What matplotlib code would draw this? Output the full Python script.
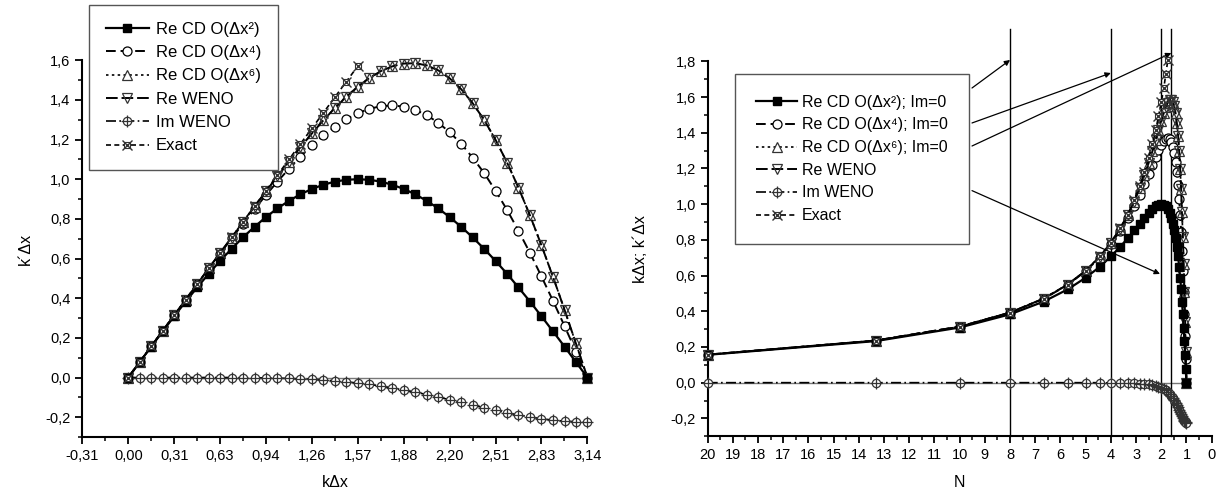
import matplotlib
matplotlib.use('Agg')
import matplotlib.pyplot as plt
from matplotlib.ticker import FixedLocator, MultipleLocator, FuncFormatter
from matplotlib.legend_handler import HandlerTuple

plt.rcParams['font.family'] = ['Liberation Sans', 'DejaVu Sans']

# kΔx nodes (step pi/40)
kdx = [0.000, 0.079, 0.157, 0.236, 0.314, 0.393, 0.471, 0.550, 0.628, 0.707,
       0.785, 0.864, 0.942, 1.021, 1.100, 1.178, 1.257, 1.335, 1.414, 1.492,
       1.571, 1.649, 1.728, 1.806, 1.885, 1.963, 2.042, 2.121, 2.199, 2.278,
       2.356, 2.435, 2.513, 2.592, 2.670, 2.749, 2.827, 2.906, 2.985, 3.063, 3.142]

# points per wave N for the same nodes (first node skipped, N infinite)
n_ppw = [40.0, 20.0, 13.33, 10.0, 8.0, 6.67, 5.71, 5.0, 4.44, 4.0,
         3.64, 3.33, 3.08, 2.86, 2.67, 2.5, 2.35, 2.22, 2.11, 2.0,
         1.90, 1.82, 1.74, 1.67, 1.6, 1.54, 1.48, 1.43, 1.38, 1.33,
         1.29, 1.25, 1.21, 1.18, 1.14, 1.11, 1.08, 1.05, 1.03, 1.0]

re_cd2 = [0.000, 0.078, 0.156, 0.233, 0.309, 0.383, 0.454, 0.523, 0.588, 0.649,
          0.707, 0.760, 0.809, 0.853, 0.891, 0.924, 0.951, 0.972, 0.988, 0.997,
          1.000, 0.997, 0.988, 0.972, 0.951, 0.924, 0.891, 0.853, 0.809, 0.760,
          0.707, 0.649, 0.588, 0.523, 0.454, 0.383, 0.309, 0.233, 0.156, 0.078, 0.000]

re_cd4 = [0.000, 0.079, 0.157, 0.236, 0.314, 0.392, 0.470, 0.548, 0.625, 0.701,
          0.776, 0.849, 0.920, 0.988, 1.053, 1.114, 1.170, 1.221, 1.265, 1.303,
          1.333, 1.355, 1.368, 1.372, 1.366, 1.350, 1.323, 1.285, 1.237, 1.179,
          1.109, 1.031, 0.942, 0.845, 0.740, 0.628, 0.510, 0.387, 0.260, 0.131, 0.000]

re_cd6 = [0.000, 0.079, 0.157, 0.236, 0.314, 0.393, 0.471, 0.550, 0.628, 0.706,
          0.784, 0.862, 0.939, 1.014, 1.089, 1.161, 1.231, 1.297, 1.359, 1.416,
          1.467, 1.510, 1.545, 1.569, 1.583, 1.585, 1.574, 1.549, 1.509, 1.454,
          1.384, 1.299, 1.199, 1.084, 0.957, 0.817, 0.667, 0.508, 0.342, 0.172, 0.000]

re_weno = [0.000, 0.079, 0.157, 0.236, 0.314, 0.393, 0.471, 0.550, 0.628, 0.706,
           0.784, 0.862, 0.939, 1.014, 1.089, 1.161, 1.231, 1.297, 1.359, 1.416,
           1.467, 1.510, 1.545, 1.569, 1.583, 1.585, 1.574, 1.549, 1.509, 1.454,
           1.384, 1.299, 1.199, 1.084, 0.957, 0.817, 0.667, 0.508, 0.342, 0.172, 0.000]

im_weno = [0.000, 0.000, 0.000, 0.000, 0.000, 0.000, 0.000, 0.000, 0.000, 0.000,
           -0.001, -0.001, -0.002, -0.003, -0.005, -0.007, -0.009, -0.013, -0.017, -0.022,
           -0.028, -0.035, -0.043, -0.053, -0.063, -0.074, -0.086, -0.099, -0.112, -0.126,
           -0.139, -0.153, -0.166, -0.178, -0.189, -0.199, -0.208, -0.215, -0.220, -0.223, -0.224]

exact = [0.000, 0.079, 0.157, 0.236, 0.314, 0.393, 0.471, 0.550, 0.628, 0.707,
         0.785, 0.864, 0.942, 1.021, 1.100, 1.178, 1.257, 1.335, 1.414, 1.492,
         1.571, 1.649, 1.728, 1.806]

left_xticks = [-0.314, 0.0, 0.314, 0.628, 0.942, 1.257, 1.571, 1.885, 2.199, 2.513, 2.827, 3.142]
left_xlabels = ['-0,31', '0,00', '0,31', '0,63', '0,94', '1,26', '1,57', '1,88', '2,20', '2,51', '2,83', '3,14']

ref_lines = [8, 4, 2, 1.6]
# legend -> reference line arrows: (N, y) start, (N, y) end
arrows = [((9.51, 1.651), (8.0, 1.808)),
          ((9.51, 1.455), (4.0, 1.735)),
          ((9.51, 1.326), (1.6, 1.847)),
          ((9.51, 1.076), (2.05, 0.609))]

edge = '#333333'


def comma(v, pos):
    return f'{v:.1f}'.replace('.', ',')


def draw_curves(ax, x, sl, exact_xy):
    l1, = ax.plot(x, re_cd2[sl], color='black', lw=1.6, ls='-', marker='s', ms=5.8,
                  mfc='black', mec='black', clip_on=False, zorder=5)
    l2, = ax.plot(x, re_cd4[sl], color='black', lw=1.4, ls=(0, (5, 2.5)), marker='o', ms=6.5,
                  mfc='white', mec='black', mew=0.9, clip_on=False, zorder=4)
    l3, = ax.plot(x, re_cd6[sl], color='black', lw=1.2, ls=(0, (1.5, 2)), marker='^', ms=6.5,
                  mfc='white', mec=edge, mew=0.9, clip_on=False, zorder=4)
    l4, = ax.plot(x, re_weno[sl], color='black', lw=1.4, ls=(0, (6, 2)), marker='v', ms=6.5,
                  mfc='none', mec=edge, mew=0.9, clip_on=False, zorder=4)
    l5a, = ax.plot(x, im_weno[sl], color='black', lw=1.2, ls=(0, (6, 2, 1, 2)), marker='o', ms=6,
                   mfc='white', mec=edge, mew=0.9, clip_on=False, zorder=4)
    l5b, = ax.plot(x, im_weno[sl], ls='none', marker='+', ms=8, mec=edge, mew=0.9,
                   clip_on=False, zorder=4)
    l6a, = ax.plot(exact_xy[0], exact_xy[1], color='black', lw=1.2, ls=(0, (3, 2)), marker='s', ms=4,
                   mfc='white', mec=edge, mew=0.8, clip_on=False, zorder=6)
    l6b, = ax.plot(exact_xy[0], exact_xy[1], ls='none', marker='x', ms=7.5, mec=edge, mew=1.0,
                   clip_on=False, zorder=6)
    return [l1, l2, l3, l4, (l5a, l5b), (l6a, l6b)]


def style_axes(ax):
    for s in ['top', 'right']:
        ax.spines[s].set_visible(False)
    for s in ['left', 'bottom']:
        ax.spines[s].set_linewidth(1.5)
    ax.tick_params(which='major', direction='out', length=5, width=1.3, labelsize=10.5)
    ax.tick_params(which='minor', direction='out', length=3, width=1.1)
    ax.yaxis.set_major_locator(MultipleLocator(0.2))
    ax.yaxis.set_minor_locator(MultipleLocator(0.1))
    ax.yaxis.set_major_formatter(FuncFormatter(comma))


fig = plt.figure(figsize=(12.17, 4.92), dpi=100)

# left panel: k'dx vs kdx
ax1 = fig.add_axes([0.0677, 0.1118, 0.415, 0.7658])
ax1.set_xlim(-0.314, 3.142)
ax1.set_ylim(-0.3, 1.6)
ax1.plot([0, 3.142], [0, 0], color='#777777', lw=1.0, zorder=1)
h1 = draw_curves(ax1, kdx, slice(0, None), (kdx[:21], exact[:21]))
style_axes(ax1)
ax1.xaxis.set_major_locator(FixedLocator(left_xticks))
ax1.set_xticklabels(left_xlabels)
ax1.xaxis.set_minor_locator(FixedLocator([t + 0.157 for t in left_xticks[:-1]]))
ax1.set_yticks([-0.2, 0.0, 0.2, 0.4, 0.6, 0.8, 1.0, 1.2, 1.4, 1.6])
ax1.set_xlabel('k\u0394x', fontsize=11.5, labelpad=9)
ax1.set_ylabel('k\u00b4\u0394x', fontsize=11.5, labelpad=9)

labels1 = ['Re CD O(\u0394x\u00b2)', 'Re CD O(\u0394x\u2074)', 'Re CD O(\u0394x\u2076)',
           'Re WENO', 'Im WENO', 'Exact']
fig.legend(h1, labels1, loc='upper left', bbox_to_anchor=(89 / 1217, 1 - 5 / 492),
           bbox_transform=fig.transFigure, fontsize=12, frameon=True, fancybox=False,
           edgecolor='#555555', framealpha=1, handlelength=2.6, handletextpad=0.4,
           labelspacing=0.5, borderpad=1.0, borderaxespad=0,
           handler_map={tuple: HandlerTuple(ndivide=1)})

# right panel: vs points per wave N
ax2 = fig.add_axes([0.5815, 0.1134, 0.4141, 0.7618])
ax2.set_xlim(20, 0)
ax2.set_ylim(-0.3, 1.8)
ax2.plot([20, 1], [0, 0], color='#777777', lw=1.0, zorder=1)
for n in ref_lines:
    ax2.plot([n, n], [-0.3, 1.98], color='black', lw=1.0, clip_on=False, zorder=2)
h2 = draw_curves(ax2, n_ppw[1:], slice(2, None), (n_ppw[1:23], exact[2:24]))
style_axes(ax2)
ax2.xaxis.set_major_locator(MultipleLocator(1))
ax2.xaxis.set_minor_locator(MultipleLocator(0.5))
ax2.set_yticks([-0.2, 0.0, 0.2, 0.4, 0.6, 0.8, 1.0, 1.2, 1.4, 1.6, 1.8])
ax2.set_xlabel('N', fontsize=11.5, labelpad=9)
ax2.set_ylabel('k\u0394x; k\u00b4\u0394x', fontsize=11.5, labelpad=16)

for (xs, ys), (xe, ye) in arrows:
    ax2.annotate('', xy=(xe, ye), xytext=(xs, ys), annotation_clip=False,
                 arrowprops=dict(arrowstyle='-|>', color='black', lw=0.9,
                                 mutation_scale=8, shrinkA=0, shrinkB=0))

labels2 = ['Re CD O(\u0394x\u00b2); Im=0', 'Re CD O(\u0394x\u2074); Im=0', 'Re CD O(\u0394x\u2076); Im=0',
           'Re WENO', 'Im WENO', 'Exact']
fig.legend(h2, labels2, loc='upper left', bbox_to_anchor=(735 / 1217, 1 - 74 / 492),
           bbox_transform=fig.transFigure, fontsize=11.5, frameon=True, fancybox=False,
           edgecolor='#555555', framealpha=1, handlelength=2.6, handletextpad=0.3,
           labelspacing=0.48, borderpad=1.3, borderaxespad=0,
           handler_map={tuple: HandlerTuple(ndivide=1)})

fig.savefig('out.png', dpi=100)
